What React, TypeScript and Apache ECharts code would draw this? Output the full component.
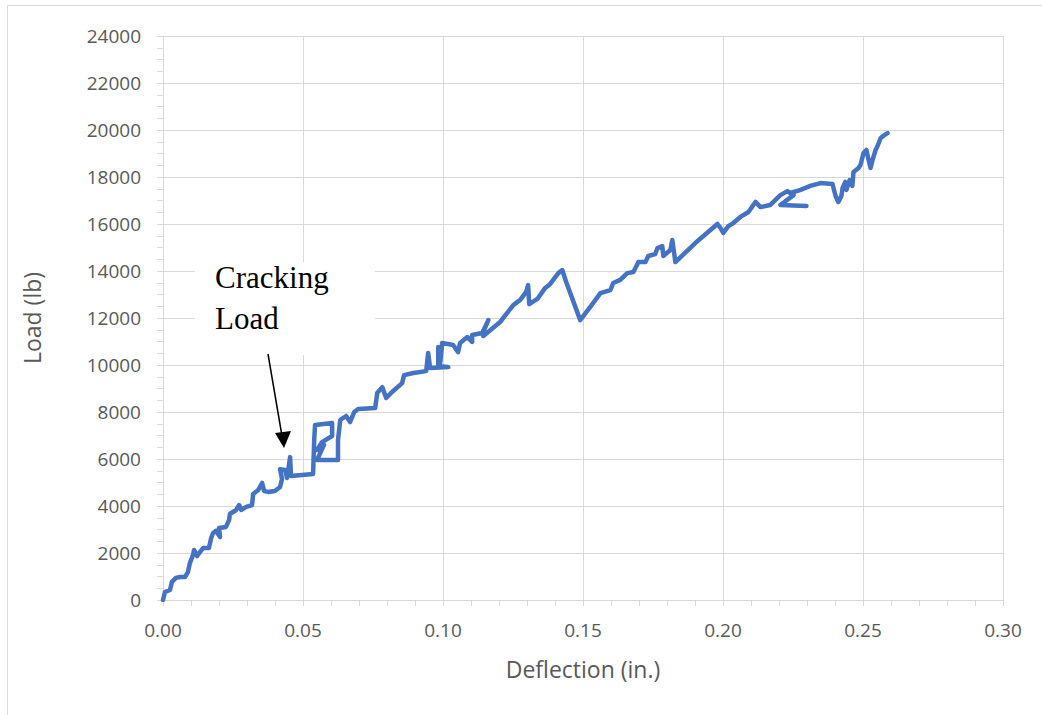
import React, { useEffect, useRef } from "react";
import * as echarts from "echarts";

// Deflection (in.) and load (lb), first trace
const deflection1 = [
  0.0, 0.0007, 0.0025, 0.0032, 0.0046, 0.0061, 0.0079, 0.0089, 0.0096, 0.0107,
  0.0111, 0.0122, 0.0132, 0.0143, 0.0164, 0.0172, 0.0179, 0.0189, 0.0204, 0.02,
  0.0225, 0.0236, 0.0239, 0.0261, 0.0272, 0.0279, 0.0297, 0.0318, 0.0322, 0.034,
  0.0354, 0.0361, 0.0375, 0.04, 0.0418, 0.0425, 0.0418, 0.0436, 0.0443, 0.0454,
  0.0457, 0.0536, 0.054, 0.0543, 0.0604, 0.0604, 0.0568, 0.055, 0.0575, 0.055,
  0.0625, 0.0625, 0.0633, 0.0654, 0.0668, 0.0683, 0.0697, 0.0758, 0.0765, 0.0783,
  0.0797, 0.0818, 0.0854, 0.0861, 0.0894, 0.094, 0.0947, 0.0954, 0.1019, 0.0983,
  0.0983, 0.099, 0.0997, 0.1036, 0.1054, 0.1061, 0.1087, 0.1104, 0.1104, 0.114,
  0.1162, 0.1147, 0.1144, 0.1204, 0.1251, 0.1276, 0.1297, 0.1304, 0.1308, 0.1337,
  0.1365, 0.1383, 0.1401, 0.1412, 0.1426, 0.144, 0.149, 0.1526, 0.1562, 0.1598,
  0.1608, 0.1633, 0.1658, 0.168, 0.1698, 0.1723, 0.1733, 0.1758, 0.1766, 0.1783,
  0.1787, 0.1812, 0.1819, 0.183, 0.1901, 0.198, 0.1991, 0.2001, 0.2019, 0.2037,
  0.2062, 0.2091, 0.2116, 0.2134, 0.2169, 0.2205, 0.223, 0.2252, 0.2205, 0.2298,
];
const load1 = [
  0, 340, 430, 770, 940, 980, 980, 1190, 1570, 1910,
  2130, 1870, 2040, 2210, 2210, 2640, 2850, 2940, 2680, 3060,
  3110, 3400, 3660, 3830, 4040, 3830, 3960, 4040, 4510, 4680,
  4980, 4640, 4600, 4640, 4810, 5150, 5570, 5530, 5190, 6080,
  5280, 5360, 6810, 7450, 7530, 6980, 6720, 6380, 6600, 5960,
  5960, 6810, 7660, 7830, 7570, 8000, 8130, 8170, 8810, 9060,
  8600, 8850, 9230, 9570, 9660, 9740, 10510, 9870, 9910, 9960,
  10770, 10080, 10940, 10850, 10550, 10940, 11190, 10980, 11280, 11360,
  11910, 11490, 11230, 11830, 12550, 12770, 13110, 13400, 12590, 12810,
  13280, 13450, 13740, 13910, 14040, 13530, 11910, 12470, 13060, 13190,
  13490, 13620, 13910, 13960, 14380, 14380, 14640, 14720, 14980, 15060,
  14640, 14890, 15320, 14380, 15190, 16000, 15830, 15620, 15910, 16040,
  16300, 16510, 16940, 16720, 16810, 17230, 17400, 17230, 16810, 16770,
];

// Second trace (continues after the short horizontal branch)
const deflection2 = [
  0.2241, 0.2277, 0.2312, 0.2348, 0.2391, 0.2402, 0.2412, 0.2423, 0.2427, 0.2437,
  0.2441, 0.2452, 0.2462, 0.2466, 0.2484, 0.2491, 0.2502, 0.2512, 0.252, 0.2527,
  0.2534, 0.2545, 0.2552, 0.2563, 0.2577, 0.2588,
];
const load2 = [
  17320, 17450, 17620, 17740, 17700, 17190, 16940, 17190, 17530, 17790,
  17450, 17870, 17620, 18210, 18380, 18510, 19020, 19150, 18720, 18380,
  18720, 19150, 19320, 19660, 19790, 19870,
];

const xTickLabels = ["0.00", "0.05", "0.10", "0.15", "0.20", "0.25", "0.30"];

const zip = (xs: number[], ys: number[]) => xs.map((x, i) => [x, ys[i]]);

const BLUE = "#4472C4";
const GRAY = "#d9d9d9";
const TXT = "#595959";
const FONT = "'Open Sans', sans-serif";

export default function App() {
  const ref = useRef<HTMLDivElement>(null);

  useEffect(() => {
    document.body.style.margin = "0";
    if (!ref.current) return;
    const chart = echarts.init(ref.current, null, { renderer: "svg" });
    const lineStyle = { color: BLUE, width: 4.5, cap: "round", join: "round" };
    chart.setOption({
      animation: false,
      backgroundColor: "#ffffff",
      grid: { left: 163, right: 39, top: 36, bottom: 115, containLabel: false },
      xAxis: {
        type: "value",
        min: 0,
        max: 0.3,
        interval: 0.05,
        name: "Deflection (in.)",
        nameLocation: "middle",
        nameGap: 57,
        nameTextStyle: { fontFamily: FONT, fontSize: 23, color: TXT },
        axisLine: { show: true, lineStyle: { color: GRAY, width: 1 } },
        axisTick: { show: true, length: 6, lineStyle: { color: GRAY } },
        minorTick: { show: true, splitNumber: 5, length: 6, lineStyle: { color: GRAY } },
        splitLine: { show: true, lineStyle: { color: GRAY, width: 1 } },
        axisLabel: {
          fontFamily: FONT,
          fontSize: 19,
          color: TXT,
          margin: 20,
          formatter: (v: number) => {
            const idx = Math.round(v / 0.05);
            return xTickLabels[idx] ?? v.toFixed(2);
          },
        },
      },
      yAxis: {
        type: "value",
        min: 0,
        max: 24000,
        interval: 2000,
        name: "Load (lb)",
        nameLocation: "middle",
        nameGap: 120,
        nameTextStyle: { fontFamily: FONT, fontSize: 23, color: TXT },
        axisLine: { show: true, lineStyle: { color: GRAY, width: 1 } },
        axisTick: { show: true, length: 6, lineStyle: { color: GRAY } },
        minorTick: { show: true, splitNumber: 4, length: 6, lineStyle: { color: GRAY } },
        splitLine: { show: true, lineStyle: { color: GRAY, width: 1 } },
        axisLabel: {
          fontFamily: FONT,
          fontSize: 19,
          color: TXT,
          margin: 22,
          formatter: (v: number) => String(Math.round(v)),
        },
      },
      series: [
        {
          type: "line",
          data: zip(deflection1, load1),
          showSymbol: false,
          symbol: "none",
          lineStyle,
          z: 3,
        },
        {
          type: "line",
          data: zip(deflection2, load2),
          showSymbol: false,
          symbol: "none",
          lineStyle,
          z: 3,
        },
      ],
      graphic: [
        {
          type: "rect",
          z: 50,
          shape: { x: 7.5, y: 5.5, width: 1100, height: 800 },
          style: { fill: "none", stroke: GRAY, lineWidth: 1 },
        },
        {
          type: "rect",
          z: 50,
          shape: { x: 195, y: 262, width: 180, height: 93 },
          style: { fill: "#ffffff" },
        },
        {
          type: "text",
          z: 51,
          x: 215,
          y: 257,
          style: {
            text: "Cracking\nLoad",
            font: "31px 'Liberation Serif', serif",
            lineHeight: 41,
            fill: "#000000",
            verticalAlign: "top",
            align: "left",
          },
        },
        {
          type: "line",
          z: 51,
          shape: { x1: 268, y1: 354, x2: 282, y2: 436 },
          style: { stroke: "#000000", lineWidth: 1.5 },
        },
        {
          type: "polygon",
          z: 51,
          shape: { points: [[275, 433], [291, 431], [284, 448]] },
          style: { fill: "#000000" },
        },
      ],
    });
    return () => chart.dispose();
  }, []);

  return (
    <div
      ref={ref}
      style={{ position: "fixed", left: 0, top: 0, width: 1042, height: 715 }}
    />
  );
}
